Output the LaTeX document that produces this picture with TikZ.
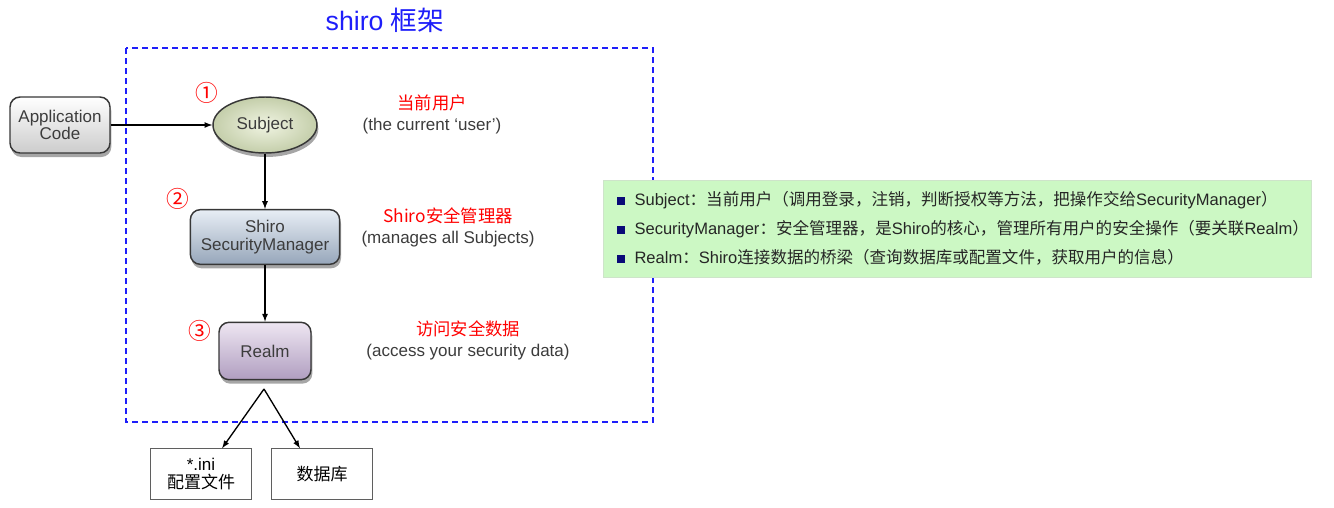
\documentclass[tikz,border=0pt]{standalone}
\usepackage{fontspec}
\setmainfont{Liberation Sans}
\newfontfamily\cjk{Noto Sans CJK SC}
\usetikzlibrary{arrows.meta,positioning,shapes.geometric,shadows}
\definecolor{framblue}{RGB}{30,30,250}
\definecolor{boxline}{RGB}{55,55,55}
\definecolor{txtgray}{RGB}{60,60,60}
\definecolor{notegreen}{RGB}{204,248,196}
\definecolor{bullnavy}{RGB}{10,10,120}
\newcommand{\bul}{\textcolor{bullnavy}{\rule[0.3pt]{6.5pt}{6.5pt}}\hspace{7pt}}

\begin{document}
\begin{tikzpicture}[>=latex, x=0.75pt, y=-0.75pt,
  shade box/.style={draw=boxline, line width=1.1pt, rounded corners=7.5pt, align=center,
    text=txtgray, font=\fontsize{12.75}{15}\selectfont,
    drop shadow={shadow xshift=1pt, shadow yshift=-3pt, opacity=.35, fill=black}},
  plain box/.style={draw=boxline!80, line width=0.6pt, fill=white, align=center,
    minimum width=76pt, minimum height=38pt, font=\fontsize{12.75}{15}\selectfont},
  num/.style={text=red, font=\cjk\fontsize{17}{17}\selectfont},
  cnlabel/.style={text=red, font=\cjk\fontsize{13}{15}\selectfont},
  enlabel/.style={text=txtgray, font=\fontsize{12.75}{15}\selectfont},
  link/.style={->, line width=1pt, black}]
  \useasboundingbox (0,0) rectangle (1334,507);

  % title and framework frame
  \node[text=framblue, font=\fontsize{20}{22}\selectfont] (title) at (385,20) {shiro {\cjk 框架}};
  \draw[framblue, line width=0.8pt, dash pattern=on 4.5pt off 3pt] (126,48) rectangle (653,422);

  % main blocks
  \node[shade box, top color=white, bottom color=gray!40,
        minimum width=75pt, minimum height=42pt] (app) at (60,125) {Application\\[-2pt]Code};
  \node[shade box, ellipse, inner color={rgb,255:red,240;green,244;blue,226},
        outer color={rgb,255:red,196;green,206;blue,170},
        minimum width=78pt, minimum height=42pt] (subj) at (265,125) {Subject};
  \node[shade box, top color={rgb,255:red,232;green,238;blue,245},
        bottom color={rgb,255:red,150;green,166;blue,186},
        minimum width=112pt, minimum height=41pt] (secmgr) at (265,237) {Shiro\\[-2pt]SecurityManager};
  \node[shade box, top color={rgb,255:red,238;green,230;blue,242},
        bottom color={rgb,255:red,176;green,158;blue,192},
        minimum width=69pt, minimum height=43pt] (realm) at (265,351) {Realm};

  % data sources
  \node[plain box] (ini) at (201,474) {*.ini\\[-1pt]{\cjk 配置文件}};
  \node[plain box] (db) at (322,474) {\cjk 数据库};

  % numbers
  \node[num] (n1) at (207,93) {①};
  \node[num] (n2) at (178,199) {②};
  \node[num] (n3) at (200,331) {③};

  % side notes
  \node[cnlabel] (cur) at (432,103) {当前用户};
  \node[enlabel] (curEn) at (432,126) {(the current `user')};
  \node[cnlabel] (mgr) at (448,216) {Shiro安全管理器};
  \node[enlabel] (mgrEn) at (448,239) {(manages all Subjects)};
  \node[cnlabel] (acc) at (468,329) {访问安全数据};
  \node[enlabel] (accEn) at (468,352) {(access your security data)};

  % arrows
  \draw[link] (app) -- (subj);
  \draw[link] (subj) -- (secmgr);
  \draw[link] (secmgr) -- (realm);
  \coordinate (fork) at (264,389);
  \draw[link] (fork) -- ([xshift=-22.5pt]ini.north east);
  \draw[link] (fork) -- ([xshift=21.75pt]db.north west);

  % summary
  \node[fill=notegreen, draw=notegreen!85!black!60, line width=0.3pt, anchor=west,
        minimum height=72.75pt, text width=511pt, inner xsep=10pt, align=left,
        font=\fontsize{12.4}{21.75}\selectfont, text=black!85] (notes) at (603,228.5)
    {\bul Subject{\cjk ：当前用户（调用登录，注销，判断授权等方法，把操作交给}SecurityManager{\cjk ）}\\
     \bul SecurityManager{\cjk ：安全管理器，是}Shiro{\cjk 的核心，管理所有用户的安全操作（要关联}Realm{\cjk ）}\\
     \bul Realm{\cjk ：}Shiro{\cjk 连接数据的桥梁（查询数据库或配置文件，获取用户的信息）}};
\end{tikzpicture}
\end{document}
